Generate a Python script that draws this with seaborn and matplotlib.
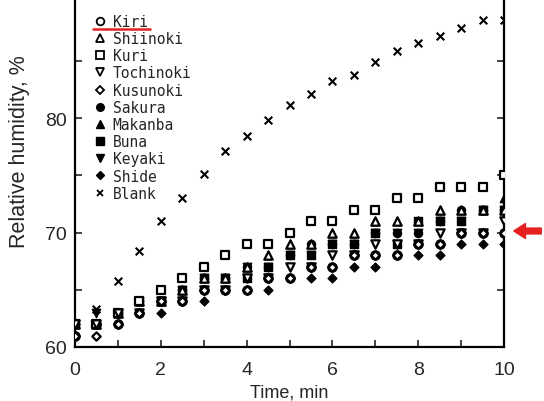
import numpy as np
import pandas as pd
import matplotlib
matplotlib.use("Agg")
import matplotlib.pyplot as plt
import seaborn as sns
from matplotlib.ticker import MultipleLocator, FixedLocator
from matplotlib.lines import Line2D
from matplotlib.patches import FancyArrowPatch

time = [0, 0.5, 1, 1.5, 2, 2.5, 3, 3.5, 4, 4.5, 5, 5.5, 6, 6.5, 7, 7.5, 8, 8.5, 9, 9.5, 10]

kiri      = [61, 62, 62, 63, 64, 64, 65, 65, 65, 66, 66, 67, 67, 68, 68, 68, 69, 69, 70, 70, 70]
shiinoki  = [62, 62, 63, 64, 64, 65, 66, 66, 67, 68, 69, 69, 70, 70, 71, 71, 71, 72, 72, 72, 72]
kuri      = [62, 62, 63, 64, 65, 66, 67, 68, 69, 69, 70, 71, 71, 72, 72, 73, 73, 74, 74, 74, 75]
tochinoki = [62, 62, 63, 63, 64, 64, 65, 65, 66, 66, 67, 67, 68, 68, 69, 69, 69, 70, 70, 70, 71]
kusunoki  = [61, 61, 62, 63, 64, 64, 65, 65, 65, 66, 66, 67, 67, 68, 68, 68, 69, 69, 70, 70, 70]
sakura    = [62, 62, 63, 64, 64, 65, 66, 66, 67, 67, 68, 69, 69, 69, 70, 70, 70, 71, 72, 72, 72]
makanba   = [62, 62, 63, 64, 64, 65, 66, 66, 67, 68, 69, 69, 70, 70, 71, 71, 71, 72, 72, 72, 73]
buna      = [62, 62, 63, 64, 64, 65, 66, 66, 66, 67, 68, 68, 69, 69, 70, 69, 71, 71, 71, 72, 72]
keyaki    = [62, 63, 63, 64, 64, 65, 66, 66, 67, 67, 68, 68, 69, 69, 70, 70, 70, 71, 71, 72, 72]
shide     = [62, 62, 62, 63, 63, 64, 64, 65, 65, 65, 66, 66, 66, 67, 67, 68, 68, 68, 69, 69, 69]
blank     = [62, 63.3, 65.8, 68.4, 71.0, 73.0, 75.1, 77.1, 78.4, 79.8, 81.1, 82.1, 83.2, 83.8,
             84.9, 85.9, 86.6, 87.2, 87.9, 88.6, 88.6]

names = ["Kiri", "Shiinoki", "Kuri", "Tochinoki", "Kusunoki", "Sakura",
         "Makanba", "Buna", "Keyaki", "Shide", "Blank"]
series = [kiri, shiinoki, kuri, tochinoki, kusunoki, sakura, makanba, buna, keyaki, shide, blank]
markers = ["o", "^", "s", "v", "D", "o", "^", "s", "v", "D", "x"]
filled = [False, False, False, False, False, True, True, True, True, True, None]
sizes = [36, 36, 30, 36, 18, 34, 36, 30, 36, 20, 30]

sns.set_style("ticks")
plt.rcParams["font.family"] = ["Liberation Sans", "DejaVu Sans"]

fig = plt.figure(figsize=(5.44, 4.02), dpi=100)
ax = fig.add_axes([75/544, 1 - 348/402, (504-75)/544, 348/402])

for i in range(len(names)):
    df = pd.DataFrame({"t": time, "v": series[i]})
    if markers[i] == "x":
        sns.scatterplot(data=df, x="t", y="v", marker="x", s=sizes[i], color="black",
                        linewidth=1.5, ax=ax, zorder=3, legend=False)
    elif filled[i]:
        sns.scatterplot(data=df, x="t", y="v", marker=markers[i], s=sizes[i],
                        color="black", edgecolor="black", linewidth=1.0, ax=ax,
                        zorder=3, legend=False)
    else:
        sns.scatterplot(data=df, x="t", y="v", marker=markers[i], s=sizes[i],
                        facecolor="white", edgecolor="black", linewidth=1.6, ax=ax,
                        zorder=4, legend=False)

ax.set_xlim(0, 10)
ax.set_ylim(60, 90.4)
ax.xaxis.set_major_locator(MultipleLocator(2))
ax.xaxis.set_minor_locator(MultipleLocator(1))
ax.yaxis.set_major_locator(FixedLocator([60, 70, 80]))
ax.yaxis.set_minor_locator(FixedLocator([65, 75, 85]))
ax.tick_params(which="both", direction="in", left=True, right=True, bottom=True, top=False,
               length=5, width=1.2, labelsize=14)
ax.tick_params(axis="x", which="both", pad=10)
ax.tick_params(axis="y", which="both", pad=6, labelright=False)
for s in ["left", "right", "bottom"]:
    ax.spines[s].set_linewidth(1.6)
    ax.spines[s].set_color("black")
ax.spines["top"].set_visible(False)

ax.set_xlabel("Time, min", fontsize=13, labelpad=4)
ax.set_ylabel("Relative humidity, %", fontsize=15.5)
ax.yaxis.set_label_coords(-0.105, 0.565)

# legend
handles = []
for i in range(len(names)):
    if markers[i] == "x":
        h = Line2D([], [], linestyle="none", marker="x", markersize=5, color="black",
                   markeredgewidth=1.3)
    elif filled[i]:
        h = Line2D([], [], linestyle="none", marker=markers[i],
                   markersize=5.5 if markers[i] != "D" else 4, color="black")
    else:
        h = Line2D([], [], linestyle="none", marker=markers[i],
                   markersize=5.5 if markers[i] != "D" else 3.8,
                   markerfacecolor="white", markeredgecolor="black", markeredgewidth=1.3)
    handles.append(h)
leg = ax.legend(handles, names, loc="upper left", bbox_to_anchor=(0.03, 0.974),
                frameon=False, prop={"family": "DejaVu Sans Mono", "size": 10.5},
                handlelength=0.8, handletextpad=0.5, labelspacing=0.15, borderaxespad=0)

# red annotations
fig.add_artist(Line2D([93/544, 150/544], [1 - 29.5/402, 1 - 29.5/402], color="#e52020",
                      linewidth=1.8, transform=fig.transFigure))
arrow = FancyArrowPatch((544/544, 1 - 232/402), (511/544, 1 - 232/402),
                        transform=fig.transFigure,
                        arrowstyle="simple,head_length=0.7,head_width=0.9,tail_width=0.35",
                        mutation_scale=12, color="#e52020")
fig.add_artist(arrow)

fig.savefig("out.png", dpi=100)
